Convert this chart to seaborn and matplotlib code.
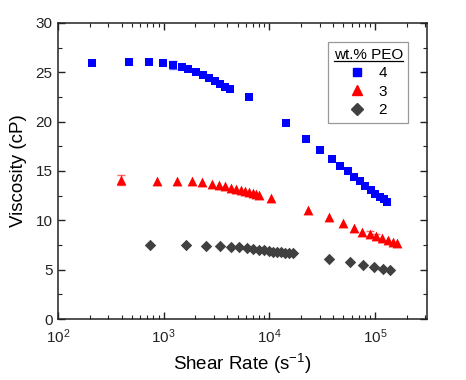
import numpy as np
import pandas as pd
import matplotlib
matplotlib.use("Agg")
import matplotlib.pyplot as plt
import seaborn as sns
from matplotlib.ticker import LogLocator, MultipleLocator, NullFormatter
from matplotlib.lines import Line2D

# ---- data ----
rate_4 = [211, 470, 721, 978, 1234, 1489, 1710, 2008, 2340, 2685, 3037, 3410, 3800, 4210, 6370,
          14260, 22200, 30300, 38800, 46900, 55000, 63100, 71900, 80800, 90800, 100400, 111300, 121300, 131400]
visc_4 = [25.96, 26.0, 26.0, 25.9, 25.7, 25.55, 25.3, 25.0, 24.7, 24.4, 24.1, 23.8, 23.5, 23.3, 22.5,
          19.86, 18.24, 17.09, 16.2, 15.5, 14.96, 14.4, 13.95, 13.5, 13.1, 12.7, 12.4, 12.15, 11.9]
err_4 = [0, 0, 0, 0, 0.4, 0, 0, 0, 0, 0, 0, 0, 0, 0, 0,
         0, 0, 0, 0, 0, 0, 0, 0, 0, 0, 0, 0, 0, 0]

rate_3 = [394, 869, 1345, 1840, 2320, 2840, 3340, 3830, 4330, 4830, 5350, 5870, 6410, 6950, 7470, 7970, 10360,
          23300, 36600, 49700, 62700, 75700, 89500, 101400, 116200, 132400, 148700, 160000]
visc_3 = [14.05, 14.0, 14.0, 13.95, 13.9, 13.7, 13.6, 13.45, 13.3, 13.2, 13.1, 13.0, 12.9, 12.8, 12.7, 12.55, 12.3,
          11.08, 10.3, 9.74, 9.26, 8.86, 8.58, 8.38, 8.18, 7.98, 7.81, 7.67]
err_3 = [0.5, 0, 0, 0, 0, 0, 0, 0, 0, 0, 0, 0, 0, 0, 0, 0, 0,
         0, 0, 0, 0, 0, 0.3, 0.2, 0, 0, 0, 0]

rate_2 = [736, 1626, 2513, 3430, 4300, 5190, 6090, 6990, 7920, 8890, 9840, 10880, 11880, 12970, 14140, 15420, 16600,
          36900, 57600, 77300, 97800, 118000, 139300]
visc_2 = [7.47, 7.47, 7.44, 7.41, 7.34, 7.27, 7.2, 7.14, 7.03, 6.96, 6.9, 6.83, 6.8, 6.76, 6.73, 6.7, 6.7,
          6.09, 5.75, 5.49, 5.24, 5.08, 4.94]

series_labels = ["4", "3", "2"]
colors = {"4": "#0000FF", "3": "#FF0000", "2": "#404040"}
markers = {"4": "s", "3": "^", "2": "D"}
sizes = {"4": 38, "3": 50, "2": 34}

df = pd.concat([
    pd.DataFrame({"rate": rate_4, "visc": visc_4, "err": err_4, "peo": "4"}),
    pd.DataFrame({"rate": rate_3, "visc": visc_3, "err": err_3, "peo": "3"}),
    pd.DataFrame({"rate": rate_2, "visc": visc_2, "err": [0] * len(rate_2), "peo": "2"}),
], ignore_index=True)

plt.rcParams["font.family"] = ["Liberation Sans", "DejaVu Sans"]
plt.rcParams["mathtext.fontset"] = "custom"
plt.rcParams["mathtext.rm"] = "Liberation Sans"

fig = plt.figure(figsize=(4.66, 3.80), dpi=100)
ax = fig.add_axes([0.1245, 0.1605, 0.7915, 0.779])

for lab in series_labels:
    sub = df[df.peo == lab]
    e = sub[sub.err > 0]
    if len(e):
        ax.errorbar(e.rate, e.visc, yerr=e.err, fmt="none", ecolor=colors[lab],
                    elinewidth=1, capsize=3, capthick=1, alpha=0.6, zorder=2)
    sns.scatterplot(data=sub, x="rate", y="visc", ax=ax, color=colors[lab],
                    marker=markers[lab], s=sizes[lab], linewidth=0, zorder=3, legend=False)

ax.set_xscale("log")
ax.set_xlim(100, 3.1e5)
ax.set_ylim(0, 30)
ax.yaxis.set_major_locator(MultipleLocator(5))
ax.yaxis.set_minor_locator(MultipleLocator(2.5))
ax.xaxis.set_major_locator(LogLocator(base=10, numticks=10))
ax.xaxis.set_minor_locator(LogLocator(base=10, subs=np.arange(2, 10), numticks=20))
ax.xaxis.set_minor_formatter(NullFormatter())

ax.tick_params(which="both", direction="in", top=True, right=True, labelsize=11, colors="#222222")
ax.tick_params(which="major", length=5, width=1)
ax.tick_params(which="minor", length=3, width=0.8)
ax.tick_params(axis="x", which="major", pad=6)
ax.tick_params(axis="y", which="major", pad=4)
for sp in ax.spines.values():
    sp.set_linewidth(1.1)
    sp.set_color("#222222")

ax.set_xlabel("Shear Rate (s$^{-1}$)", fontsize=13.5, labelpad=4)
ax.set_ylabel("Viscosity (cP)", fontsize=13.5, labelpad=6)

handles = [Line2D([], [], linestyle="none", marker=markers[l], color=colors[l],
                  markersize={"4": 6.2, "3": 7.2, "2": 6.0}[l]) for l in series_labels]
leg = ax.legend(handles, series_labels, title="wt.% PEO", loc="upper right",
                bbox_to_anchor=(0.95, 0.935), fontsize=11, title_fontsize=11,
                frameon=True, fancybox=False, edgecolor="#999999", framealpha=1,
                handletextpad=0.9, handlelength=1.0, borderpad=0.35, labelspacing=0.3,
                borderaxespad=0)
leg.get_frame().set_linewidth(0.9)

fig.canvas.draw()
tb = leg.get_title().get_window_extent()
inv = fig.transFigure.inverted()
(x0, y0), (x1, y1) = inv.transform([[tb.x0, tb.y0], [tb.x1, tb.y0]])
fig.add_artist(Line2D([x0, x1], [y0 + 0.002, y0 + 0.002], transform=fig.transFigure,
                      color="black", linewidth=0.9))

fig.savefig("out.png", dpi=100)
